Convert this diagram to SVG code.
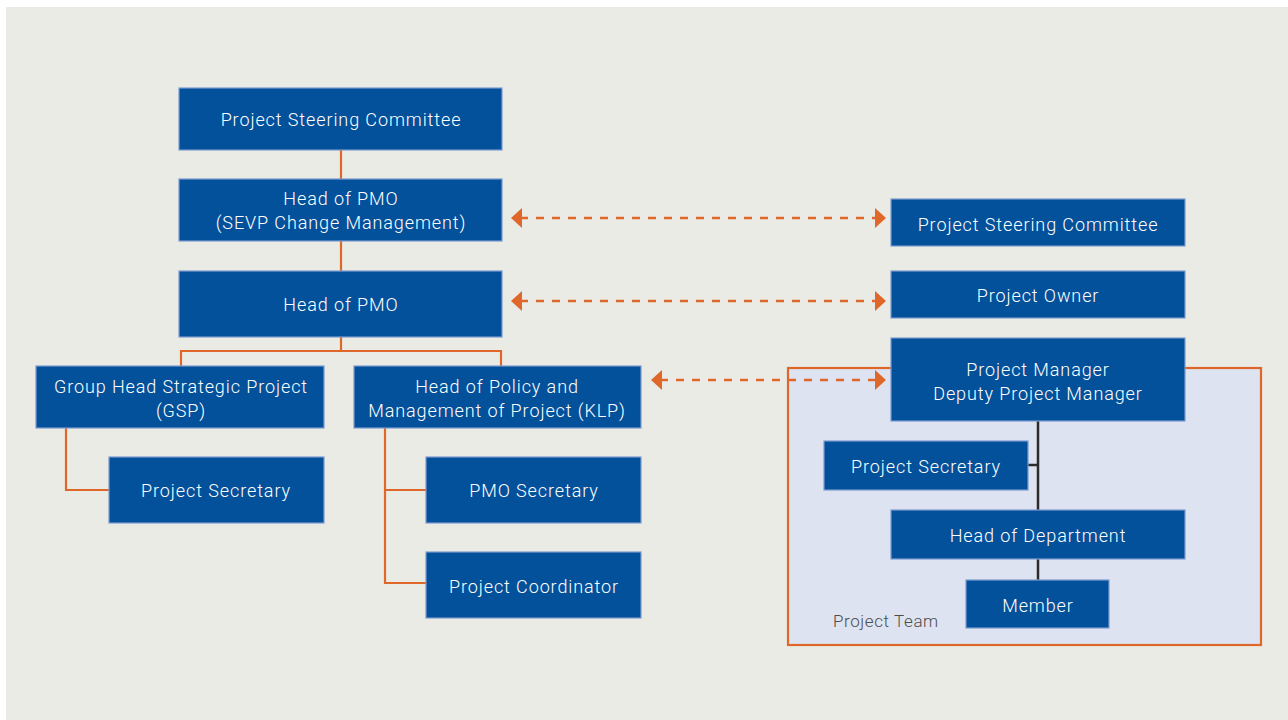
<svg xmlns="http://www.w3.org/2000/svg" width="1288" height="720" viewBox="0 0 1288 720">
<defs>
<style>
.n{fill:#03519b;stroke:#7d9bd0;stroke-width:1.2}
.t{fill:#ffffff;font-family:Roboto,"Liberation Sans",sans-serif;font-size:18px;font-weight:300;text-anchor:middle;letter-spacing:0.9px}
.oc{fill:none;stroke:#e0672a;stroke-width:2.2}
.dc{fill:none;stroke:#2b2b2b;stroke-width:2.5}
.da{fill:none;stroke:#e0672a;stroke-width:2.6;stroke-dasharray:8 8}
.ah{fill:#e0672a}
</style>
</defs>
<rect x="0" y="0" width="1288" height="720" fill="#ffffff"/>
<rect x="6" y="7" width="1282" height="713" fill="#ebebe6"/>
<g id="project-team">
<rect x="788" y="368" width="473" height="277" fill="#dde3f0" stroke="#e0672a" stroke-width="2.2"/>
<text x="833" y="627" font-family="Roboto,'Liberation Sans',sans-serif" font-size="17" font-weight="300" fill="#4d4d4d" letter-spacing="0.6">Project Team</text>
</g>
<g id="connectors">
<path class="oc" d="M341 150V179M341 241V271M341 337V351M181 366V351H501V366"/>
<path class="oc" d="M66 428V490H109"/>
<path class="oc" d="M385 428V583H426M385 490H426"/>
<path class="dc" d="M1038 421V510M1028 465H1038M1038 559V580"/>
<path class="da" d="M520 218H878"/>
<path class="da" d="M520 301H878"/>
<path class="da" d="M660 380H878"/>
<path class="ah" d="M511 218L522 208V228Z"/>
<path class="ah" d="M886 218L875 208V228Z"/>
<path class="ah" d="M511 301L522 291V311Z"/>
<path class="ah" d="M886 301L875 291V311Z"/>
<path class="ah" d="M651 380L662 370V390Z"/>
<path class="ah" d="M886 380L875 370V390Z"/>
</g>
<g id="n1"><rect class="n" x="179" y="88" width="323" height="62"/><text class="t" x="341" y="126">Project Steering Committee</text></g>
<g id="n2"><rect class="n" x="179" y="179" width="323" height="62"/><text class="t" x="341" y="205">Head of PMO</text><text class="t" x="341" y="229">(SEVP Change Management)</text></g>
<g id="n3"><rect class="n" x="179" y="271" width="323" height="66"/><text class="t" x="341" y="311">Head of PMO</text></g>
<g id="n4"><rect class="n" x="36" y="366" width="288" height="62"/><text class="t" x="181" y="393">Group Head Strategic Project</text><text class="t" x="181" y="417">(GSP)</text></g>
<g id="n5"><rect class="n" x="354" y="366" width="287" height="62"/><text class="t" x="497" y="393">Head of Policy and</text><text class="t" x="497" y="417">Management of Project (KLP)</text></g>
<g id="n6"><rect class="n" x="109" y="457" width="215" height="66"/><text class="t" x="216" y="497">Project Secretary</text></g>
<g id="n7"><rect class="n" x="426" y="457" width="215" height="66"/><text class="t" x="534" y="497">PMO Secretary</text></g>
<g id="n8"><rect class="n" x="426" y="552" width="215" height="66"/><text class="t" x="534" y="593">Project Coordinator</text></g>
<g id="n9"><rect class="n" x="891" y="199" width="294" height="47"/><text class="t" x="1038" y="231">Project Steering Committee</text></g>
<g id="n10"><rect class="n" x="891" y="271" width="294" height="47"/><text class="t" x="1038" y="302">Project Owner</text></g>
<g id="n11"><rect class="n" x="891" y="338" width="294" height="83"/><text class="t" x="1038" y="376">Project Manager</text><text class="t" x="1038" y="400">Deputy Project Manager</text></g>
<g id="n12"><rect class="n" x="824" y="441" width="204" height="49"/><text class="t" x="926" y="473">Project Secretary</text></g>
<g id="n13"><rect class="n" x="891" y="510" width="294" height="49"/><text class="t" x="1038" y="542">Head of Department</text></g>
<g id="n14"><rect class="n" x="966" y="580" width="143" height="48"/><text class="t" x="1038" y="612">Member</text></g>
</svg>
